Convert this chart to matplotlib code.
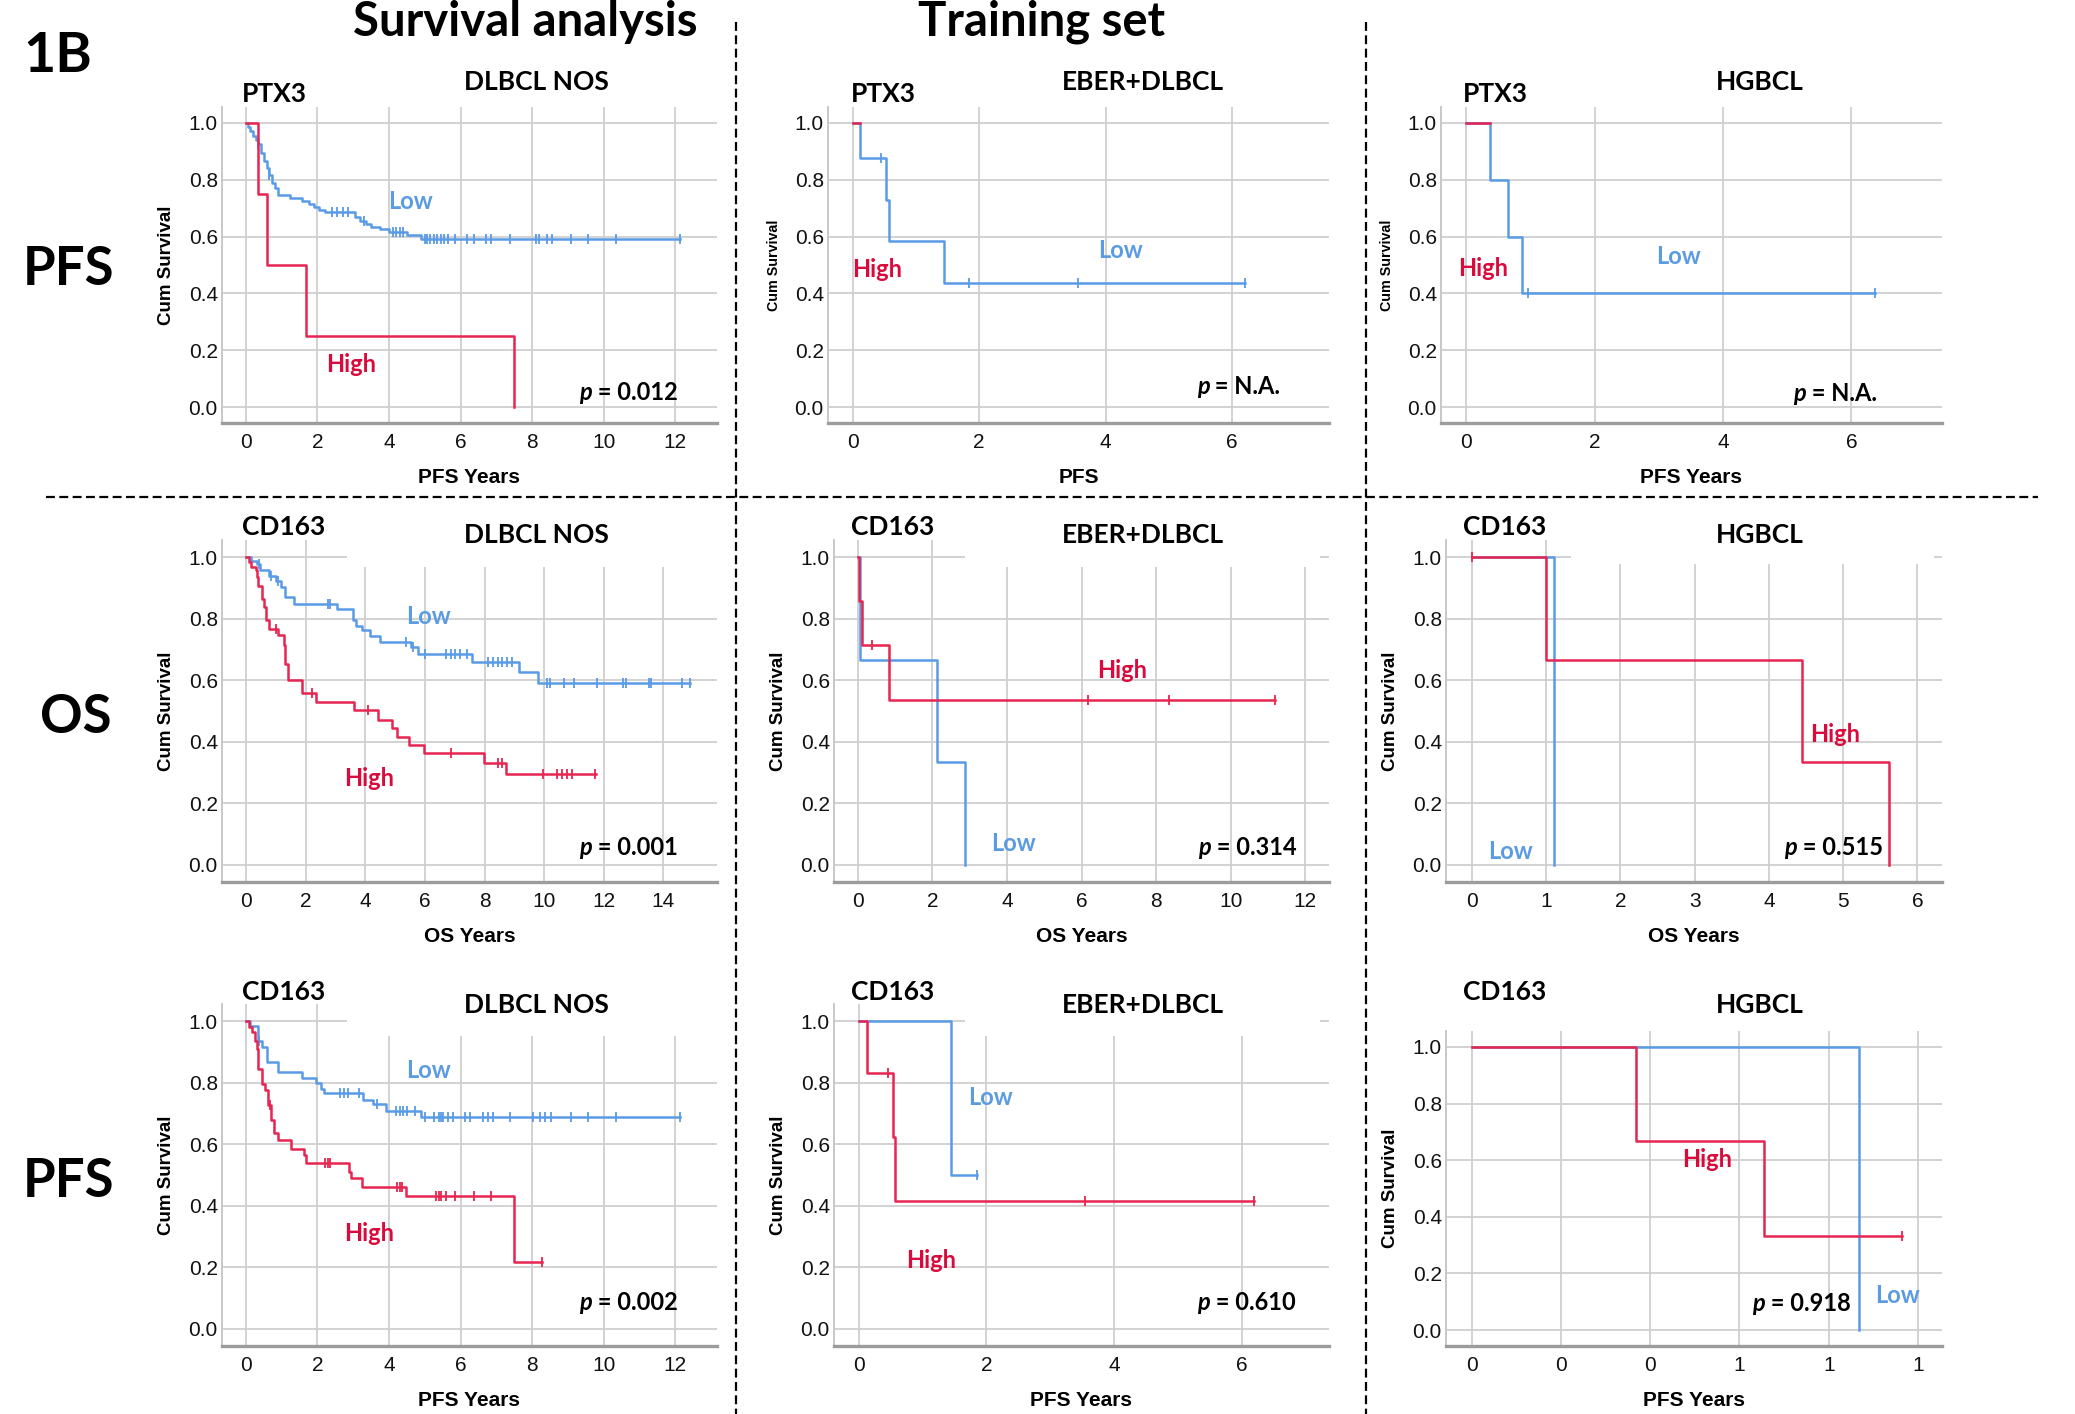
import numpy as np
import matplotlib
matplotlib.use('Agg')
import matplotlib.pyplot as plt
from matplotlib.patches import Rectangle
from matplotlib.lines import Line2D

#******************************************************************************
## -- Data (step times, survival, censor times)
#******************************************************************************

# row 1 - PTX3, PFS
p1_low_t = [0, 0.05, 0.12, 0.2, 0.28, 0.35, 0.42, 0.5, 0.58, 0.65, 0.72, 0.8, 0.9, 1.23, 1.56,
            1.75, 1.9, 2.05, 2.2, 3.05, 3.2, 3.35, 3.5, 3.75, 4.0, 4.5, 4.9, 12.13]
p1_low_s = [1.0, 0.985, 0.97, 0.955, 0.94, 0.925, 0.895, 0.865, 0.84, 0.815, 0.79, 0.77, 0.745, 0.735, 0.725,
            0.715, 0.705, 0.695, 0.685, 0.67, 0.655, 0.645, 0.635, 0.625, 0.615, 0.605, 0.59, 0.59]
p1_low_c = [0.35, 0.65, 2.4, 2.55, 2.7, 2.85, 3.3, 4.1, 4.2, 4.3, 4.4, 5.0, 5.05, 5.15, 5.25, 5.35, 5.45,
            5.55, 5.65, 5.85, 6.18, 6.38, 6.71, 6.85, 7.37, 8.1, 8.2, 8.43, 8.56, 9.09, 9.55, 10.35, 12.13]
p1_high_t = [0, 0.34, 0.58, 1.67, 7.5]
p1_high_s = [1.0, 0.75, 0.5, 0.25, 0.0]
p1_high_c = []

p2_low_t = [0, 0.11, 0.53, 0.58, 1.44, 6.2]
p2_low_s = [1.0, 0.875, 0.73, 0.583, 0.4375, 0.4375]
p2_low_c = [0.44, 1.84, 3.56, 6.2]
p2_high_t = [0, 0.11]
p2_high_s = [1.0, 1.0]
p2_high_c = []

p3_low_t = [0, 0.37, 0.66, 0.87, 6.36]
p3_low_s = [1.0, 0.8, 0.6, 0.4, 0.4]
p3_low_c = [0.96, 6.36]
p3_high_t = [0, 0.37]
p3_high_s = [1.0, 1.0]
p3_high_c = []

# row 2 - CD163, OS
p4_low_t = [0, 0.17, 0.36, 0.45, 0.76, 1.0, 1.16, 1.32, 1.59, 3.06, 3.6, 3.7, 3.9, 4.17, 4.49,
            5.52, 5.76, 7.58, 9.16, 9.8, 14.9]
p4_low_s = [1.0, 0.989, 0.978, 0.957, 0.94, 0.924, 0.903, 0.87, 0.849, 0.832, 0.795, 0.778, 0.762, 0.744, 0.724,
            0.708, 0.686, 0.659, 0.627, 0.591, 0.591]
p4_low_c = [0.44, 0.84, 1.08, 2.74, 2.82, 5.36, 5.6, 6.0, 6.7, 6.86, 7.02, 7.18, 7.42, 8.13, 8.29, 8.45,
            8.6, 8.76, 8.92, 10.11, 10.19, 10.67, 10.99, 11.78, 12.65, 12.73, 13.52, 13.6, 14.63, 14.9]
p4_high_t = [0, 0.1, 0.17, 0.32, 0.36, 0.41, 0.52, 0.6, 0.68, 0.76, 1.08, 1.28, 1.32, 1.4, 1.87, 2.35,
             3.62, 4.41, 4.88, 5.07, 5.48, 5.96, 7.98, 8.72, 11.73]
p4_high_s = [1.0, 0.984, 0.968, 0.957, 0.935, 0.908, 0.865, 0.838, 0.795, 0.768, 0.746, 0.714, 0.654, 0.6,
             0.557, 0.53, 0.503, 0.472, 0.446, 0.416, 0.389, 0.362, 0.332, 0.295, 0.295]
p4_high_c = [1.0, 2.22, 4.09, 6.87, 8.45, 8.6, 9.96, 10.43, 10.59, 10.75, 10.94, 11.7]

p5_low_t = [0, 0.07, 2.11, 2.88]
p5_low_s = [1.0, 0.667, 0.333, 0.0]
p5_low_c = []
p5_high_t = [0, 0.02, 0.1, 0.84, 11.2]
p5_high_s = [1.0, 0.857, 0.714, 0.536, 0.536]
p5_high_c = [0.37, 6.17, 8.34, 11.2]

p6_low_t = [0, 1.1]
p6_low_s = [1.0, 0.0]
p6_low_c = []
p6_high_t = [0, 1.0, 4.44, 5.62]
p6_high_s = [1.0, 0.667, 0.333, 0.0]
p6_high_c = [0.0]

# row 3 - CD163, PFS
p7_low_t = [0, 0.1, 0.34, 0.44, 0.58, 0.6, 0.9, 1.56, 1.96, 2.09, 2.19, 3.28, 3.54, 3.91, 4.9, 12.13]
p7_low_s = [1.0, 0.986, 0.937, 0.916, 0.889, 0.867, 0.835, 0.816, 0.8, 0.78, 0.765, 0.745, 0.73, 0.708,
            0.689, 0.689]
p7_low_c = [0.37, 2.64, 2.75, 2.86, 3.15, 3.67, 4.2, 4.3, 4.4, 4.5, 4.73, 5.0, 5.26, 5.39, 5.46, 5.52,
            5.66, 5.79, 6.12, 6.25, 6.64, 6.77, 6.9, 7.37, 8.03, 8.23, 8.36, 8.53, 9.09, 9.55, 10.35, 12.13]
p7_high_t = [0, 0.08, 0.16, 0.24, 0.3, 0.34, 0.45, 0.53, 0.61, 0.7, 0.77, 0.9, 1.27, 1.63, 1.69, 2.88,
             2.95, 3.25, 4.47, 7.5, 8.27]
p7_high_s = [1.0, 0.98, 0.964, 0.937, 0.91, 0.846, 0.797, 0.776, 0.727, 0.678, 0.635, 0.613, 0.586, 0.564,
             0.54, 0.51, 0.489, 0.462, 0.432, 0.216, 0.216]
p7_high_c = [0.66, 2.2, 2.3, 2.35, 4.23, 4.3, 4.36, 5.3, 5.4, 5.45, 5.6, 5.85, 6.38, 6.85, 8.27]

p8_low_t = [0, 1.45, 1.85]
p8_low_s = [1.0, 0.5, 0.5]
p8_low_c = [1.85]
p8_high_t = [0, 0.12, 0.54, 0.57, 6.19]
p8_high_s = [1.0, 0.833, 0.625, 0.417, 0.417]
p8_high_c = [0.45, 3.55, 6.19]

p9_low_t = [0, 0.868]
p9_low_s = [1.0, 0.0]
p9_low_c = []
p9_high_t = [0, 0.368, 0.656, 0.964]
p9_high_s = [1.0, 0.667, 0.333, 0.333]
p9_high_c = [0.964]
p9_xticks = [0, 0.2, 0.4, 0.6, 0.8, 1.0]
p9_xticklabels = ['0', '0', '0', '1', '1', '1']

yticks = [0.0, 0.2, 0.4, 0.6, 0.8, 1.0]
p_values = ['0.012', 'N.A.', 'N.A.', '0.001', '0.314', '0.515', '0.002', '0.610', '0.918']
genes = ['PTX3'] * 3 + ['CD163'] * 6
subtypes = ['DLBCL NOS', 'EBER+DLBCL', 'HGBCL'] * 3
xlabels = ['PFS Years', 'PFS', 'PFS Years', 'OS Years', 'OS Years', 'OS Years',
           'PFS Years', 'PFS Years', 'PFS Years']

#******************************************************************************
## -- Style
#******************************************************************************
W, H = 2075, 1414
RED = '#E62550'
BLUE = '#5A9BE6'
RED_TXT = '#D80B3C'
BLUE_TXT = '#5B9BE2'
TITLE_FONT = ['Lato', 'DejaVu Sans']

plt.rcParams['font.family'] = ['Liberation Sans', 'DejaVu Sans']

fig = plt.figure(figsize=(W / 100, H / 100), dpi=100)
fig.patch.set_facecolor('white')


def ft(x, y, s, **kw):
    # text placed in figure pixel coordinates (origin top-left)
    return fig.text(x / W, 1 - y / H, s, **kw)


def surv_at(t, s, c):
    idx = np.searchsorted(np.asarray(t), np.asarray(c), side='right') - 1
    return np.asarray(s)[idx]


# header positions (px) per column / row
gene_x = [242, 851, 1463]
gene_y = [94, 527, 992]
sub_x = [536, 1143, 1760]
sub_y = [82, 535, 1005]

# panel layout: (x0, x1, ytop, ybot) in px, xlim, xticks, ylabel size,
# label positions (Low, High), p position, white box px (x0, x1, ytop, ybot)
panels = [
    dict(box=(222, 717, 107, 423), xlim=(-0.67, 13.17), xt=range(0, 13, 2), yls=13.5,
         low=(p1_low_t, p1_low_s, p1_low_c), high=(p1_high_t, p1_high_s, p1_high_c),
         lowpos=(4.6, 0.724), highpos=(2.95, 0.149), ppos=(12.07, 0.05), wbox=None),
    dict(box=(828, 1329, 107, 423), xlim=(-0.39, 7.53), xt=range(0, 7, 2), yls=10.3,
         low=(p2_low_t, p2_low_s, p2_low_c), high=(p2_high_t, p2_high_s, p2_high_c),
         lowpos=(4.23, 0.552), highpos=(0.38, 0.484), ppos=(6.76, 0.073), wbox=None),
    dict(box=(1441, 1942, 107, 423), xlim=(-0.39, 7.41), xt=range(0, 7, 2), yls=10.3,
         low=(p3_low_t, p3_low_s, p3_low_c), high=(p3_high_t, p3_high_s, p3_high_c),
         lowpos=(3.31, 0.53), highpos=(0.27, 0.486), ppos=(6.4, 0.047), wbox=None),
    dict(box=(222, 717, 540, 882), xlim=(-0.81, 15.8), xt=range(0, 15, 2), yls=13.5,
         low=(p4_low_t, p4_low_s, p4_low_c), high=(p4_high_t, p4_high_s, p4_high_c),
         lowpos=(6.12, 0.808), highpos=(4.12, 0.281), ppos=(14.48, 0.057), wbox=(347, 717, 540, 567)),
    dict(box=(834, 1329, 540, 882), xlim=(-0.64, 12.64), xt=range(0, 13, 2), yls=13.5,
         low=(p5_low_t, p5_low_s, p5_low_c), high=(p5_high_t, p5_high_s, p5_high_c),
         lowpos=(4.18, 0.07), highpos=(7.1, 0.632), ppos=(11.76, 0.057), wbox=(965, 1320, 540, 567)),
    dict(box=(1446, 1942, 540, 882), xlim=(-0.35, 6.33), xt=range(0, 7, 1), yls=13.5,
         low=(p6_low_t, p6_low_s, p6_low_c), high=(p6_high_t, p6_high_s, p6_high_c),
         lowpos=(0.52, 0.043), highpos=(4.89, 0.422), ppos=(5.54, 0.057), wbox=(1571, 1934, 540, 564)),
    dict(box=(222, 717, 1004, 1346), xlim=(-0.67, 13.17), xt=range(0, 13, 2), yls=13.5,
         low=(p7_low_t, p7_low_s, p7_low_c), high=(p7_high_t, p7_high_s, p7_high_c),
         lowpos=(5.1, 0.84), highpos=(3.44, 0.309), ppos=(12.07, 0.084), wbox=(347, 717, 1004, 1036)),
    dict(box=(834, 1329, 1004, 1346), xlim=(-0.39, 7.37), xt=range(0, 7, 2), yls=13.5,
         low=(p8_low_t, p8_low_s, p8_low_c), high=(p8_high_t, p8_high_s, p8_high_c),
         lowpos=(2.07, 0.752), highpos=(1.14, 0.223), ppos=(6.85, 0.086), wbox=(965, 1320, 1004, 1036)),
    dict(box=(1446, 1942, 1031, 1346), xlim=(-0.058, 1.054), xt=p9_xticks, yls=13.5,
         low=(p9_low_t, p9_low_s, p9_low_c), high=(p9_high_t, p9_high_s, p9_high_c),
         lowpos=(0.954, 0.124), highpos=(0.527, 0.604), ppos=(0.85, 0.094), wbox=None),
]

#******************************************************************************
## -- Kaplan-Meier panels
#******************************************************************************
for i, p in enumerate(panels):
    x0, x1, yt, yb = p['box']
    axw, axh = x1 - x0, yb - yt
    ax = fig.add_axes([x0 / W, 1 - yb / H, axw / W, axh / H])
    ax.set_xlim(*p['xlim'])
    ax.set_ylim(-0.056, 1.056)
    ax.set_axisbelow(True)
    ax.grid(True, color='#CFCFCF', lw=1.3)
    for sp in ['top', 'right']:
        ax.spines[sp].set_visible(False)
    ax.spines['left'].set_color('#C8C8C8')
    ax.spines['left'].set_linewidth(1.4)
    ax.spines['bottom'].set_color('#9C9C9C')
    ax.spines['bottom'].set_linewidth(2.4)
    ax.set_xticks(list(p['xt']))
    if i == 8:
        ax.set_xticklabels(p9_xticklabels)
    ax.set_yticks(yticks)
    ax.set_yticklabels(['%.1f' % v for v in yticks])
    ax.tick_params(axis='both', length=0, labelsize=15, colors='#111111')
    ax.tick_params(axis='y', pad=3)
    ax.tick_params(axis='x', pad=7)
    ax.set_ylabel('Cum Survival', fontsize=p['yls'], fontweight='bold')
    ax.yaxis.set_label_coords(-47 / axw, 0.5)
    ax.set_xlabel(xlabels[i], fontsize=15, fontweight='bold')
    ax.xaxis.set_label_coords(0.5, -45 / axh)

    if p['wbox'] is not None:
        bx0, bx1, by0, by1 = p['wbox']
        ax.add_patch(Rectangle(((bx0 - x0) / axw, (yb - by1) / axh), (bx1 - bx0) / axw,
                               (by1 - by0) / axh, transform=ax.transAxes,
                               facecolor='white', edgecolor='none', zorder=1))

    for (t, s, c), col in [(p['low'], BLUE), (p['high'], RED)]:
        ax.step(t, s, where='post', color=col, lw=1.8, zorder=3)
        if len(c):
            ax.plot(c, surv_at(t, s, c), ls='none', marker='|', ms=7, mew=1.3,
                    color=col, zorder=3)

    ax.text(*p['lowpos'], 'Low', color=BLUE_TXT, fontsize=17, fontweight='bold',
            family=TITLE_FONT, ha='center', va='center', zorder=4)
    ax.text(*p['highpos'], 'High', color=RED_TXT, fontsize=17, fontweight='bold',
            family=TITLE_FONT, ha='center', va='center', zorder=4)
    tv = ax.text(*p['ppos'], ' = ' + p_values[i], fontsize=17, fontweight='bold',
                 family=TITLE_FONT, ha='right', va='center', zorder=4)
    ax.annotate('p', xy=(0, 0), xycoords=tv, fontsize=17, fontweight='bold',
                style='italic', family=TITLE_FONT, ha='right', va='bottom', zorder=4)

    # gene and subtype headers above each panel
    ft(gene_x[i % 3], gene_y[i // 3], genes[i], fontsize=19, fontweight='bold',
       family=TITLE_FONT, ha='left', va='center')
    ft(sub_x[i % 3], sub_y[i // 3], subtypes[i], fontsize=19, fontweight='bold',
       family=TITLE_FONT, ha='center', va='center')

#******************************************************************************
## -- Figure headers, row labels and dashed separators
#******************************************************************************
ft(525, 36, 'Survival analysis', fontsize=34, fontweight='bold', family=TITLE_FONT,
   ha='center', va='baseline')
ft(1042, 36, 'Training set', fontsize=34, fontweight='bold', family=TITLE_FONT,
   ha='center', va='baseline')
ft(23, 72, '1B', fontsize=40, fontweight='bold', family=TITLE_FONT, ha='left', va='baseline')
ft(23, 285, 'PFS', fontsize=38, fontweight='bold', family=TITLE_FONT, ha='left', va='baseline')
ft(40, 733, 'OS', fontsize=38, fontweight='bold', family=TITLE_FONT, ha='left', va='baseline')
ft(23, 1197, 'PFS', fontsize=38, fontweight='bold', family=TITLE_FONT, ha='left', va='baseline')

for xs, ys in [((736, 736), (22, H)), ((1366, 1366), (22, H)), ((46, 2038), (497, 497))]:
    fig.add_artist(Line2D([x / W for x in xs], [1 - y / H for y in ys], color='black',
                          lw=1.6, dashes=(4, 2), transform=fig.transFigure))

fig.savefig('out.png', dpi=100, facecolor='white')
